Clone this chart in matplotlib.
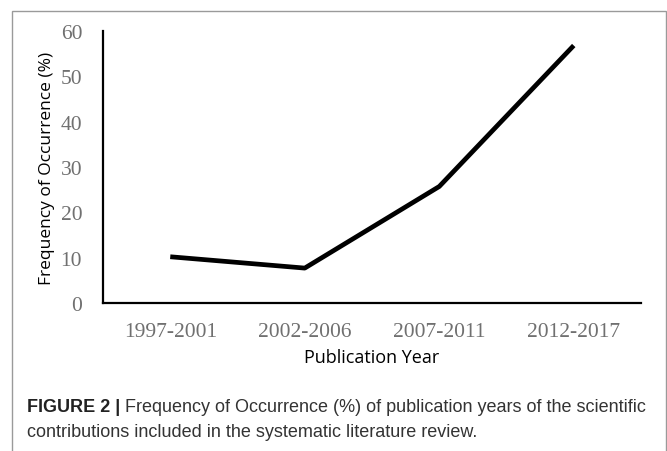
import matplotlib
matplotlib.use("Agg")
import matplotlib.pyplot as plt
from matplotlib.patches import Rectangle

periods = ["1997-2001", "2002-2006", "2007-2011", "2012-2017"]
frequency = [10.2, 7.7, 25.7, 56.8]
yticks = [0, 10, 20, 30, 40, 50, 60]

fig = plt.figure(figsize=(6.67, 4.52), dpi=100)
ax = fig.add_axes([103/667, 1-304/452, 538/667, 272/452])

x = range(len(periods))
ax.plot(x, frequency, color="black", lw=3.4, solid_capstyle="butt")
ax.set_xlim(-0.5, len(periods)-0.5)
ax.set_ylim(0, 60)
ax.set_xticks(list(x))
ax.set_xticklabels(periods)
ax.set_yticks(yticks)
ax.tick_params(length=0, labelsize=15.5, labelcolor="#707070")
for lab in ax.get_xticklabels() + ax.get_yticklabels():
    lab.set_family("Liberation Serif")
ax.tick_params(axis="x", pad=14)
ax.tick_params(axis="y", pad=15)

for s in ["top", "right"]:
    ax.spines[s].set_visible(False)
for s in ["left", "bottom"]:
    ax.spines[s].set_linewidth(1.6)
    ax.spines[s].set_color("black")

ax.set_xlabel("Publication Year", family="Open Sans", fontsize=13, labelpad=5)
ax.set_ylabel("Frequency of Occurrence (%)", family="Open Sans", fontsize=12.5, labelpad=4)

# outer frame
fig.patches.append(Rectangle((12/667, -0.05), 654/667, 1.05-12/452, transform=fig.transFigure,
                             fill=False, edgecolor="#9a9a9a", lw=1.0))

# caption
t1 = fig.text(27/667, 1-408/452, "FIGURE 2 |", family="Liberation Sans",
              fontweight="bold", fontsize=13, va="center", color="#222222")
fig.canvas.draw()
bb = t1.get_window_extent()
fig.text((bb.x1 + 5)/667, 1-408/452,
         "Frequency of Occurrence (%) of publication years of the scientific",
         family="Liberation Sans", fontsize=13, va="center", color="#333333")
fig.text(27/667, 1-433/452, "contributions included in the systematic literature review.",
         family="Liberation Sans", fontsize=13, va="center", color="#333333")

fig.savefig("out.png", dpi=100)
